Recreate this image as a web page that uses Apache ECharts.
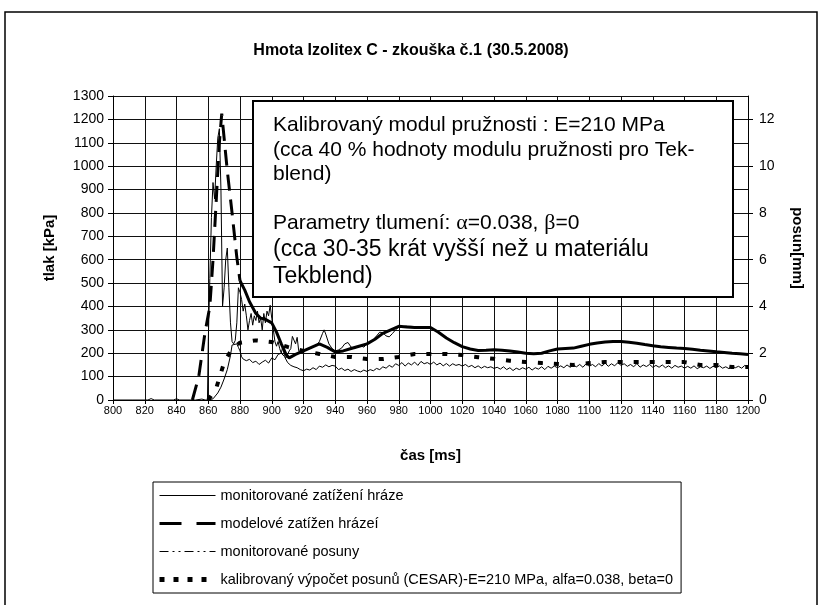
<!DOCTYPE html>
<html>
<head>
<meta charset="utf-8">
<script src="https://cdn.jsdelivr.net/npm/echarts@6/dist/echarts.min.js"></script>
<style>
html,body{margin:0;padding:0;background:#fff;}
#chart{width:822px;height:605px;}
</style>
</head>
<body>
<div id="chart"></div>
<script type="text/javascript">
var FONT = '"Liberation Sans", Arial, sans-serif';

var seriesNames = [
    'monitorované zatížení hráze',
    'modelové zatížen hrázeí',
    'monitorované posuny',
    'kalibrovaný výpočet posunů (CESAR)-E=210 MPa, alfa=0.038, beta=0'
];

// monitorované zatížení hráze [ms, kPa]
var monLoad = [
    [800,0],[812,0],[822,0],[824,6],[826,0],[838,0],[840,5],[842,0],[852,0],[856,4],[858,0],[859.5,0],
    [860,250],[861,520],[862,780],[863,930],[864,860],[865,1000],[866,1120],[867,1160],[868,900],
    [869,400],[870,480],[871,600],[872,650],[873,480],[874,330],[875,250],[876,240],[877,255],
    [878,330],[879,480],[880,460],[881,430],[882,380],[883,410],[884,360],[885,300],[886,340],
    [887,370],[888,320],[889,360],[890,340],[891,380],[892,330],[893,350],[894,300],[895,370],
    [896,330],[897,380],[898,360],[899,405],[900,350],[901,300],[902,250],[903,230],[904,250],
    [905,220],[906,200],[907,230],[908,190],[909,180],[910,175],[911,210],[912,220],[913,272],
    [914,276],[915,240],[916,268],[917,210],[918,200],[920,210],[922,215],[924,220],[926,226],
    [928,232],[930,250],[932,285],[933,300],[934,282],[936,240],[938,220],[940,210],[942,214],
    [944,222],[946,240],[948,246],[950,226],[952,220],[954,226],[956,232],[958,226],[960,240],
    [962,246],[964,258],[966,274],[968,290],[970,288],[972,274],[974,270],[976,284],[978,300],
    [980,312],[985,316],[990,314],[995,312],[1000,310]
];

// modelové zatížení hráze [ms, kPa] - řídké body (čárkovaně)
var modelLoadPeak = [
    [850,0],[854,100],[858,290],[861,400],[863,600],[865,850],[867,1100],[868.5,1225],
    [870,1120],[872,980],[875,800],[878,610],[880,510]
];
// modelové zatížení hráze [ms, kPa] - husté body
var modelLoadTail = [
    [880,510],[883,470],[886,420],[890,370],[893,350],[896,345],[900,330],[903,290],[906,240],
    [909,195],[911,180],[915,195],[920,210],[925,225],[930,240],[935,225],[940,205],[945,210],
    [950,220],[955,230],[960,240],[965,260],[970,285],[975,300],[980,315],[985,312],[990,310],
    [995,310],[1000,310],[1005,290],[1010,265],[1015,245],[1020,228],[1025,218],[1030,212],
    [1035,213],[1040,215],[1045,213],[1050,210],[1055,205],[1060,200],[1065,198],[1070,200],
    [1075,210],[1080,218],[1085,220],[1090,222],[1095,230],[1100,238],[1105,244],[1110,248],
    [1115,250],[1120,250],[1125,247],[1130,243],[1135,237],[1140,232],[1145,228],[1150,225],
    [1155,222],[1160,220],[1165,217],[1170,213],[1175,210],[1180,206],[1185,203],[1190,200],
    [1195,198],[1200,195]
];

// monitorované posuny [ms, mm] - nárůst
var monPosStart = [
    [860,0],[863,0.05],[866,0.3],[868,0.55],[870,0.9],[872,1.3],[874,1.9],[875,2.35],
    [878,2.4],[879,2.25],[880,2.1],[881,1.85]
];
// monitorované posuny [mm] od 882 ms po 2 ms
var monPosFrom = 882, monPosStep = 2;
var monPosValues = [
    1.75,1.68,1.74,1.6,1.66,1.52,1.62,1.7,1.58,1.8,
    1.72,1.95,2.0,1.86,1.6,1.48,1.42,1.38,1.3,1.25,
    1.32,1.28,1.38,1.3,1.45,1.4,1.5,1.42,1.48,1.45,
    1.3,1.36,1.26,1.32,1.22,1.3,1.24,1.2,1.28,1.22,
    1.3,1.25,1.35,1.3,1.42,1.36,1.48,1.4,1.55,1.48,
    1.6,1.45,1.58,1.5,1.62,1.48,1.65,1.55,1.6,1.52,
    1.62,1.5,1.58,1.46,1.56,1.45,1.55,1.48,1.52,1.45,
    1.52,1.42,1.48,1.38,1.46,1.36,1.44,1.38,1.42,1.35,
    1.4,1.32,1.42,1.3,1.38,1.26,1.36,1.3,1.38,1.32,
    1.4,1.28,1.38,1.32,1.42,1.3,1.44,1.36,1.45,1.38,
    1.46,1.38,1.5,1.4,1.48,1.42,1.52,1.4,1.55,1.44,
    1.52,1.42,1.56,1.45,1.58,1.44,1.55,1.46,1.6,1.48,
    1.55,1.44,1.52,1.42,1.56,1.4,1.5,1.43,1.52,1.4,
    1.48,1.4,1.5,1.38,1.46,1.36,1.48,1.4,1.45,1.36,
    1.44,1.36,1.46,1.34,1.42,1.38,1.45,1.35,1.44,1.38,
    1.46,1.36,1.42,1.34,1.45,1.38,1.44,1.36,1.48,1.4
];

// kalibrovaný výpočet posunů (CESAR) [ms, mm]
var cesarPos = [
    [860,0],[865,0.5],[870,1.6],[875,2.2],[880,2.45],[890,2.55],[900,2.48],[910,2.27],
    [920,2.1],[930,1.97],[940,1.84],[950,1.84],[960,1.75],[970,1.75],[980,1.84],[990,1.97],
    [1000,1.97],[1010,1.97],[1020,1.92],[1030,1.83],[1040,1.76],[1050,1.68],[1060,1.62],
    [1070,1.58],[1080,1.54],[1090,1.5],[1100,1.58],[1110,1.62],[1120,1.62],[1130,1.62],
    [1140,1.62],[1150,1.62],[1160,1.62],[1170,1.5],[1180,1.5],[1190,1.41],[1200,1.41]
];

var monPos = monPosStart.slice();
for (var i = 0; i < monPosValues.length; i++) {
    monPos.push([monPosFrom + i * monPosStep, monPosValues[i]]);
}

var noteLines = [
    'Kalibrovaný modul pružnosti : E=210 MPa',
    '(cca 40 % hodnoty modulu pružnosti pro Tek-',
    'blend)',
    'Parametry tlumení: {g|α}=0.038, {g|β}=0',
    '(cca 30-35 krát vyšší než u materiálu',
    'Tekblend)'
];
var noteY = [125, 150, 174, 223, 250, 277];
var noteSize = [21, 21, 21, 21, 23, 23];

var graphics = [{
    type: 'rect', z: 100,
    shape: { x: 5, y: 12, width: 812, height: 620 },
    style: { fill: null, stroke: '#000', lineWidth: 1.5 }
}, {
    type: 'rect', z: 100,
    shape: { x: 253, y: 101, width: 480, height: 196 },
    style: { fill: '#fff', stroke: '#000', lineWidth: 2 }
}];
for (var j = 0; j < noteLines.length; j++) {
    graphics.push({
        type: 'text', z: 101,
        x: 273, y: noteY[j],
        style: {
            text: noteLines[j],
            fill: '#000',
            fontFamily: FONT,
            fontSize: noteSize[j],
            verticalAlign: 'middle',
            rich: { g: { fontFamily: '"Liberation Serif", serif', fontSize: 22, fill: '#000', verticalAlign: 'middle' } }
        }
    });
}

var plain = function (v) { return String(v); };

var option = {
    backgroundColor: '#ffffff',
    animation: false,
    title: {
        text: '{b|Hmota Izolitex C - zkouška č.1} {n|(30.5.2008)}',
        left: 'center',
        top: 37,
        textStyle: {
            rich: {
                b: { fontFamily: FONT, fontWeight: 'bold', fontSize: 16, color: '#000' },
                n: { fontFamily: FONT, fontSize: 16, color: '#000' }
            }
        }
    },
    legend: {
        orient: 'vertical',
        left: 153,
        top: 482,
        padding: [6, 8, 6, 4],
        itemGap: 13,
        itemWidth: 56,
        itemHeight: 15,
        borderColor: '#000',
        borderWidth: 1,
        backgroundColor: '#fff',
        selectedMode: false,
        textStyle: { fontFamily: FONT, fontSize: 14.5, color: '#000' },
        data: [
            { name: seriesNames[0], itemStyle: { opacity: 0 }, lineStyle: { color: '#000', width: 1, type: 'solid' } },
            { name: seriesNames[1], itemStyle: { opacity: 0 }, lineStyle: { color: '#000', width: 3, type: [22, 15] } },
            { name: seriesNames[2], itemStyle: { opacity: 0 }, lineStyle: { color: '#000', width: 1, type: [9, 4, 2, 4, 2, 4] } },
            { name: seriesNames[3], itemStyle: { opacity: 0 }, lineStyle: { color: '#000', width: 5, type: [5, 9] } }
        ]
    },
    grid: { left: 113, right: 74, top: 96, bottom: 205 },
    xAxis: {
        type: 'value',
        min: 800, max: 1200, interval: 20,
        name: 'čas [ms]',
        nameLocation: 'middle',
        nameGap: 48,
        nameTextStyle: { fontFamily: FONT, fontWeight: 'bold', fontSize: 15, color: '#000' },
        axisLine: { lineStyle: { color: '#000' } },
        axisTick: { length: 4, lineStyle: { color: '#000' } },
        axisLabel: { fontFamily: FONT, fontSize: 11, color: '#000', margin: 5, formatter: plain },
        splitLine: { show: true, lineStyle: { color: '#111', width: 1 } }
    },
    yAxis: [{
        type: 'value',
        min: 0, max: 1300, interval: 100,
        name: 'tlak [kPa]',
        nameLocation: 'middle',
        nameGap: 56,
        nameTextStyle: { fontFamily: FONT, fontWeight: 'bold', fontSize: 15, color: '#000' },
        axisLine: { show: true, lineStyle: { color: '#000' } },
        axisTick: { show: true, length: 5, lineStyle: { color: '#000' } },
        axisLabel: { fontFamily: FONT, fontSize: 14, color: '#000', margin: 9, formatter: plain },
        splitLine: { show: true, lineStyle: { color: '#111', width: 1 } }
    }, {
        type: 'value',
        min: 0, max: 13, interval: 2,
        name: 'posun[mm]',
        nameLocation: 'middle',
        nameGap: 42,
        nameRotate: -90,
        nameTextStyle: { fontFamily: FONT, fontWeight: 'bold', fontSize: 15, color: '#000' },
        axisLine: { show: true, lineStyle: { color: '#000' } },
        axisTick: { show: true, length: 5, lineStyle: { color: '#000' } },
        axisLabel: {
            fontFamily: FONT, fontSize: 14, color: '#000', margin: 11,
            showMaxLabel: false,
            formatter: function (v) { return v > 12 ? '' : String(v); }
        },
        splitLine: { show: false }
    }],
    graphic: graphics,
    series: [{
        name: seriesNames[0],
        type: 'line',
        yAxisIndex: 0,
        data: monLoad,
        symbol: 'none', showSymbol: false,
        lineStyle: { color: '#000', width: 1 },
        itemStyle: { color: '#000' },
        z: 3
    }, {
        name: seriesNames[1],
        type: 'line',
        yAxisIndex: 0,
        data: modelLoadPeak,
        symbol: 'none', showSymbol: false,
        lineStyle: { color: '#000', width: 3, type: [16, 9] },
        itemStyle: { color: '#000' },
        z: 4
    }, {
        name: seriesNames[1],
        type: 'line',
        yAxisIndex: 0,
        data: modelLoadTail,
        symbol: 'none', showSymbol: false,
        lineStyle: { color: '#000', width: 3 },
        itemStyle: { color: '#000' },
        z: 4
    }, {
        name: seriesNames[2],
        type: 'line',
        yAxisIndex: 1,
        data: monPos,
        symbol: 'none', showSymbol: false,
        lineStyle: { color: '#000', width: 1 },
        itemStyle: { color: '#000' },
        z: 3
    }, {
        name: seriesNames[3],
        type: 'line',
        yAxisIndex: 1,
        data: cesarPos,
        symbol: 'none', showSymbol: false,
        lineStyle: { color: '#000', width: 4, type: [5, 11] },
        itemStyle: { color: '#000' },
        z: 3
    }]
};

var chart = echarts.init(document.getElementById('chart'));
chart.setOption(option);
</script>
</body>
</html>
